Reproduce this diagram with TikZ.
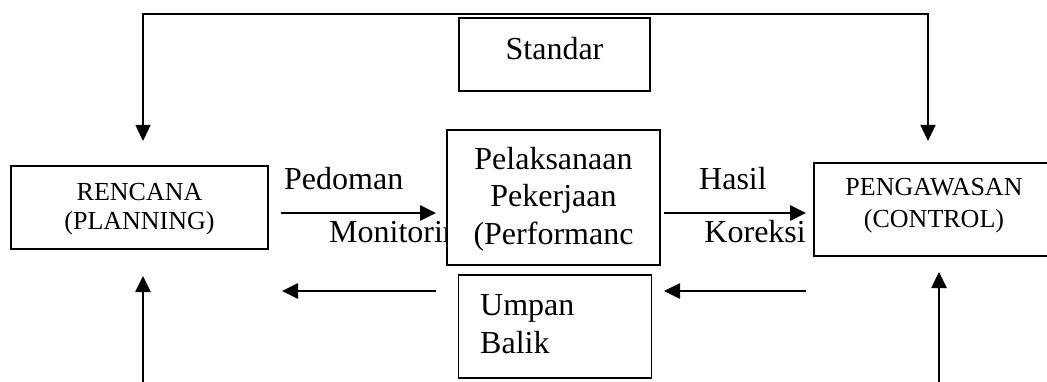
\documentclass[tikz,border=0pt]{standalone}
\usepackage{fontspec}
\setmainfont{Liberation Serif}
\usetikzlibrary{arrows.meta}
\begin{document}
\begin{tikzpicture}[x=1pt,y=-1pt,
  boxst/.style={draw=black,line width=1.3pt,fill=white,inner sep=0pt},
  big/.style={font=\fontsize{32}{37}\selectfont,inner sep=0pt,anchor=base},
  small/.style={font=\fontsize{26}{31}\selectfont,inner sep=0pt,anchor=base},
  arr/.style={line width=2.6pt,-{Triangle[length=16pt,width=15pt]}},
  topline/.style={line width=1.5pt,{Triangle[length=16pt,width=15pt]}-{Triangle[length=16pt,width=15pt]}}]
\path[use as bounding box] (0,0) rectangle (1047,382);
\clip (0,0) rectangle (1047,382);
% top loop
\coordinate (tl) at (143,141);
\coordinate (tr) at (928,141);
\draw[topline] (tl) -- (143,14) -- (928,14) -- (tr);
% labels
\node[big,anchor=base west] (ped) at (284,190) {Pedoman};
\begin{scope}
\clip (0,0) rectangle (447,382);
\node[big,anchor=base west] (mon) at (329,243) {Monitoring};
\end{scope}
\node[big,anchor=base west] (has) at (699,190) {Hasil};
\node[big,anchor=base east] (kor) at (806,243) {Koreksi};
% boxes
\node[boxst,minimum width=257pt,minimum height=83pt] (ren) at (139.5,207.5) {};
\node[boxst,minimum width=191pt,minimum height=73pt] (std) at (554.5,54.5) {};
\node[boxst,minimum width=213pt,minimum height=135pt] (pel) at (553.5,197.5) {};
\node[boxst,minimum width=193pt,minimum height=103pt] (ump) at (555,326.5) {};
\node[boxst,minimum width=238pt,minimum height=93pt] (pen) at (933,209.5) {};
% texts
\node[small] (t1) at (139.5,201) {RENCANA};
\node[small] (t2) at (139.5,230) {(PLANNING)};
\node[big] (t3) at (554.5,60) {Standar};
\node[big] (t4) at (553.5,170) {Pelaksanaan};
\node[big] (t5) at (553.5,207) {Pekerjaan};
\node[big] (t6) at (553.5,244) {(Performanc};
\node[big,anchor=base west] (t7) at (480,315) {Umpan};
\node[big,anchor=base west] (t8) at (480,353) {Balik};
\node[small] (t9) at (934,196) {PENGAWASAN};
\node[small] (t10) at (934,228) {(CONTROL)};
% arrows
\coordinate (a1) at (281,213); \coordinate (a2) at (436,213);
\coordinate (b1) at (436,291); \coordinate (b2) at (282,291);
\coordinate (c1) at (664,213); \coordinate (c2) at (806,213);
\coordinate (d1) at (806,291); \coordinate (d2) at (664,291);
\coordinate (e1) at (143,384); \coordinate (e2) at (143,276);
\coordinate (f1) at (939,384); \coordinate (f2) at (939,272);
\draw[arr] (a1) -- (a2);
\draw[arr] (b1) -- (b2);
\draw[arr] (c1) -- (c2);
\draw[arr] (d1) -- (d2);
\draw[arr] (e1) -- (e2);
\draw[arr] (f1) -- (f2);
\end{tikzpicture}
\end{document}
